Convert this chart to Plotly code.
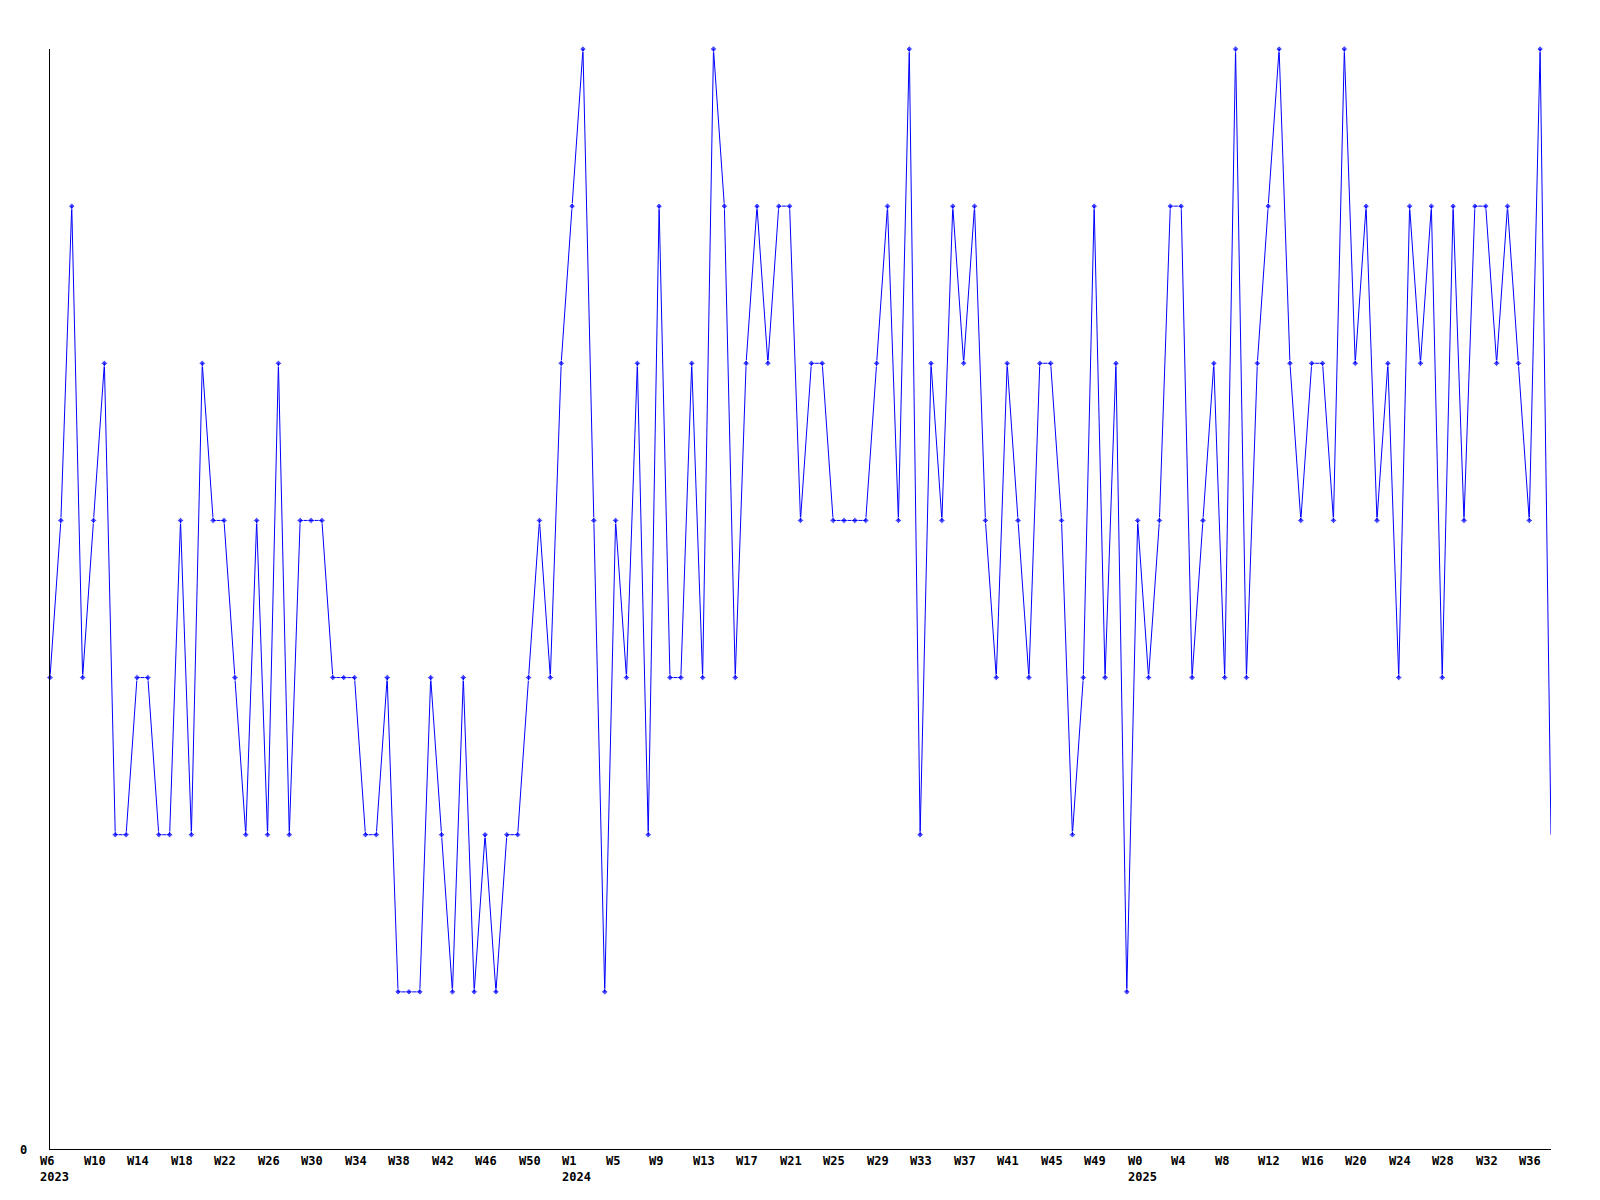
import plotly.graph_objects as go

# Weekly values (one point per week, W6 2023 .. W38 2025)
values = [
    3, 4, 6, 3, 4, 5, 2, 2, 3, 3, 2, 2, 4, 2, 5, 4, 4, 3, 2, 4,
    2, 5, 2, 4, 4, 4, 3, 3, 3, 2, 2, 3, 1, 1, 1, 3, 2, 1, 3, 1,
    2, 1, 2, 2, 3, 4, 3, 5, 6, 7, 4, 1, 4, 3, 5, 2, 6, 3, 3, 5,
    3, 7, 6, 3, 5, 6, 5, 6, 6, 4, 5, 5, 4, 4, 4, 4, 5, 6, 4, 7,
    2, 5, 4, 6, 5, 6, 4, 3, 5, 4, 3, 5, 5, 4, 2, 3, 6, 3, 5, 1,
    4, 3, 4, 6, 6, 3, 4, 5, 3, 7, 3, 5, 6, 7, 5, 4, 5, 5, 4, 7,
    5, 6, 4, 5, 3, 6, 5, 6, 3, 6, 4, 6, 6, 5, 6, 5, 4, 7, 2,
]

# Tick labels, one every 4 weeks
week_labels = [
    "W6", "W10", "W14", "W18", "W22", "W26", "W30", "W34", "W38", "W42", "W46", "W50",
    "W1", "W5", "W9", "W13", "W17", "W21", "W25", "W29", "W33", "W37", "W41", "W45", "W49",
    "W0", "W4", "W8", "W12", "W16", "W20", "W24", "W28", "W32", "W36",
]
year_labels = ["2023", "2024", "2025"]
year_label_ticks = [0, 12, 25]  # index in week_labels where each year starts

x = list(range(len(values)))
tick_step = 4
tick_idx = [i * tick_step for i in range(len(week_labels))]

marker_sizes = [5] * len(values)
marker_sizes[-1] = 0

fig = go.Figure()
fig.add_trace(go.Scatter(
    x=x, y=values, mode="lines+markers",
    line=dict(color="#0000FF", width=1),
    marker=dict(symbol="diamond", size=marker_sizes, color="#0000FF"),
    cliponaxis=False,
    hoverinfo="skip",
))

font = dict(family="DejaVu Sans Mono", size=12, color="black", weight="bold")
annotations = []
for xi, lab in zip(tick_idx, week_labels):
    annotations.append(dict(
        x=xi, y=0, xref="x", yref="y", text=lab, showarrow=False,
        xanchor="left", yanchor="middle", xshift=-12, yshift=-12, font=font,
    ))
for yl, pos in zip(year_labels, year_label_ticks):
    annotations.append(dict(
        x=tick_idx[pos], y=0, xref="x", yref="y", text=yl, showarrow=False,
        xanchor="left", yanchor="middle", xshift=-12, yshift=-28, font=font,
    ))
annotations.append(dict(
    x=0, y=0, xref="paper", yref="y", text="0", showarrow=False,
    xanchor="right", yanchor="middle", xshift=-21, yshift=-1, font=font,
))

fig.update_layout(
    width=1584, height=1184,
    margin=dict(l=42, r=41, t=41, b=43),
    paper_bgcolor="white", plot_bgcolor="white",
    showlegend=False,
    annotations=annotations,
    xaxis=dict(
        range=[0, len(values) - 1], showgrid=False, zeroline=False,
        showline=True, linecolor="black", linewidth=1,
        showticklabels=False, ticks="", fixedrange=True,
    ),
    yaxis=dict(
        range=[0, 7], showgrid=False, zeroline=False,
        showline=True, linecolor="black", linewidth=1,
        showticklabels=False, ticks="", fixedrange=True,
    ),
)

fig.write_html("out.html", config={"displayModeBar": False})
